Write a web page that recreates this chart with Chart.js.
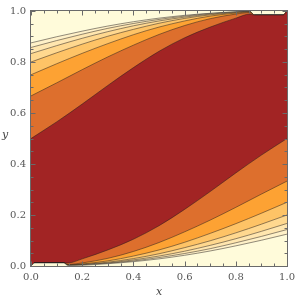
<!DOCTYPE html>
<html>
<head>
<meta charset="utf-8">
<script src="https://cdn.jsdelivr.net/npm/chart.js@4/dist/chart.umd.min.js"></script>
<style>
html,body{margin:0;padding:0;background:#fff;}
canvas{display:block;}
</style>
</head>
<body>
<canvas id="c" width="300" height="300"></canvas>
<script>
// x positions where the upper contour family was read
const xUpper = [0, 0.1, 0.2, 0.3, 0.4, 0.5, 0.6, 0.7, 0.8, 0.855, 0.873, 0.985, 1.0];
// upper contours, level 1 (dark red edge) to level 7 (top)
const up1 = [0.500, 0.565, 0.635, 0.708, 0.778, 0.842, 0.895, 0.937, 0.972, 0.988, 0.984, 0.984, 1.0];
const up2 = [0.667, 0.718, 0.770, 0.820, 0.866, 0.908, 0.943, 0.970, 0.988, 0.994, 0.984, 0.984, 1.0];
const up3 = [0.750, 0.793, 0.834, 0.872, 0.907, 0.937, 0.961, 0.980, 0.992, 0.996, 0.984, 0.984, 1.0];
const up4 = [0.800, 0.836, 0.870, 0.901, 0.928, 0.952, 0.971, 0.985, 0.994, 0.997, 0.984, 0.984, 1.0];
const up5 = [0.833, 0.864, 0.893, 0.919, 0.942, 0.961, 0.976, 0.988, 0.995, 0.998, 0.984, 0.984, 1.0];
const up6 = [0.857, 0.884, 0.909, 0.932, 0.951, 0.967, 0.980, 0.990, 0.996, 0.998, 0.984, 0.984, 1.0];
const up7 = [0.875, 0.899, 0.921, 0.941, 0.958, 0.972, 0.983, 0.991, 0.997, 0.998, 0.984, 0.984, 1.0];

// x positions where the lower contour family was read
const xLower = [0, 0.015, 0.127, 0.145, 0.2, 0.3, 0.4, 0.5, 0.6, 0.7, 0.8, 0.9, 1.0];
// lower contours, level 1 (dark red edge) to level 7 (bottom)
const lo1 = [0.0, 0.012, 0.012, 0.012, 0.028, 0.063, 0.105, 0.158, 0.222, 0.292, 0.365, 0.435, 0.500];
const lo2 = [0.0, 0.012, 0.012, 0.006, 0.012, 0.030, 0.057, 0.092, 0.134, 0.180, 0.230, 0.282, 0.333];
const lo3 = [0.0, 0.012, 0.012, 0.004, 0.008, 0.020, 0.039, 0.063, 0.093, 0.128, 0.166, 0.207, 0.250];
const lo4 = [0.0, 0.012, 0.012, 0.003, 0.006, 0.015, 0.029, 0.048, 0.072, 0.099, 0.130, 0.164, 0.200];
const lo5 = [0.0, 0.012, 0.012, 0.002, 0.005, 0.012, 0.024, 0.039, 0.058, 0.081, 0.107, 0.136, 0.167];
const lo6 = [0.0, 0.012, 0.012, 0.002, 0.004, 0.010, 0.020, 0.033, 0.049, 0.068, 0.091, 0.116, 0.143];
const lo7 = [0.0, 0.012, 0.012, 0.002, 0.003, 0.009, 0.017, 0.028, 0.042, 0.059, 0.079, 0.101, 0.125];

// axis ticks
const tickValues = [0, 0.2, 0.4, 0.6, 0.8, 1.0];
const tickLabels = ["0.0", "0.2", "0.4", "0.6", "0.8", "1.0"];
const minorStep = 0.05;

// band colours, from the central band outwards
const bandColors = ["#A22424", "#DD6F2D", "#FDA233", "#FEC366", "#FFD88F", "#FFE6AF", "#FFF1C8", "#FFFBDA"];
const lineColor = "rgba(35,30,30,0.5)";

function pts(xs, ys) { return xs.map((x, i) => ({ x: x, y: ys[i] })); }

const upper = [up1, up2, up3, up4, up5, up6, up7];
const lower = [lo1, lo2, lo3, lo4, lo5, lo6, lo7];
const datasets = [];
// upper family: each curve filled downward with the colour of the band just below it
upper.forEach((ys, i) => {
  datasets.push({
    data: pts(xUpper, ys),
    fill: 'start',
    backgroundColor: bandColors[i],
    borderColor: lineColor,
    borderWidth: 1,
    pointRadius: 0,
    cubicInterpolationMode: 'monotone',
    order: 7 + i
  });
});
// lower family: each curve filled downward with the colour of the band just below it
lower.forEach((ys, i) => {
  datasets.push({
    data: pts(xLower, ys),
    fill: 'start',
    backgroundColor: bandColors[i + 1],
    borderColor: lineColor,
    borderWidth: 1,
    pointRadius: 0,
    cubicInterpolationMode: 'monotone',
    order: 6 - i
  });
});

const framePlugin = {
  id: 'frame',
  beforeDatasetsDraw(chart) {
    const a = chart.chartArea, ctx = chart.ctx;
    ctx.save();
    ctx.fillStyle = bandColors[7];
    ctx.fillRect(a.left, a.top, a.right - a.left, a.bottom - a.top);
    ctx.restore();
  },
  afterDatasetsDraw(chart) {
    const a = chart.chartArea, ctx = chart.ctx;
    const xs = chart.scales.x, ys = chart.scales.y;
    ctx.save();
    ctx.strokeStyle = '#6a6a6a';
    ctx.lineWidth = 1;
    ctx.strokeRect(Math.round(a.left) - 0.5, Math.round(a.top) - 0.5, Math.round(a.right - a.left) + 1, Math.round(a.bottom - a.top) + 1);
    ctx.beginPath();
    const n = Math.round(1 / minorStep);
    for (let i = 0; i <= n; i++) {
      const v = i * minorStep;
      const len = (i % 4 === 0) ? 4.5 : 2.5;
      const px = Math.round(xs.getPixelForValue(v)) + 0.5;
      const py = Math.round(ys.getPixelForValue(v)) + 0.5;
      ctx.moveTo(px, a.bottom); ctx.lineTo(px, a.bottom - len);
      ctx.moveTo(px, a.top); ctx.lineTo(px, a.top + len);
      ctx.moveTo(a.left, py); ctx.lineTo(a.left + len, py);
      ctx.moveTo(a.right, py); ctx.lineTo(a.right - len, py);
    }
    ctx.stroke();
    ctx.fillStyle = '#444';
    ctx.font = 'italic 11px "DejaVu Serif"';
    ctx.textAlign = 'center';
    ctx.textBaseline = 'middle';
    ctx.fillText('y', 5, 135);
    ctx.fillText('x', (a.left + a.right) / 2, 292);
    ctx.restore();
  }
};

const tickFont = { family: '"DejaVu Serif"', size: 10 };

new Chart(document.getElementById('c'), {
  type: 'line',
  data: { datasets: datasets },
  options: {
    responsive: false,
    animation: false,
    layout: { padding: { left: 0, right: 9, top: 6, bottom: 0 } },
    plugins: { legend: { display: false }, tooltip: { enabled: false } },
    elements: { line: { tension: 0 } },
    scales: {
      x: {
        type: 'linear', min: 0, max: 1,
        grid: { display: false, drawTicks: false },
        border: { display: false },
        afterBuildTicks(s) { s.ticks = tickValues.map(v => ({ value: v })); },
        afterFit(s) { s.height = 34; },
        ticks: {
          autoSkip: false, maxRotation: 0, padding: 5, color: '#555', font: tickFont,
          callback: (v) => tickLabels[tickValues.findIndex(t => Math.abs(t - v) < 1e-9)]
        }
      },
      y: {
        type: 'linear', min: 0, max: 1,
        grid: { display: false, drawTicks: false },
        border: { display: false },
        afterBuildTicks(s) { s.ticks = tickValues.map(v => ({ value: v })); },
        afterFit(s) { s.width = 31; },
        ticks: {
          autoSkip: false, padding: 5, color: '#555', font: tickFont,
          callback: (v) => tickLabels[tickValues.findIndex(t => Math.abs(t - v) < 1e-9)]
        }
      }
    }
  },
  plugins: [framePlugin]
});
</script>
</body>
</html>
